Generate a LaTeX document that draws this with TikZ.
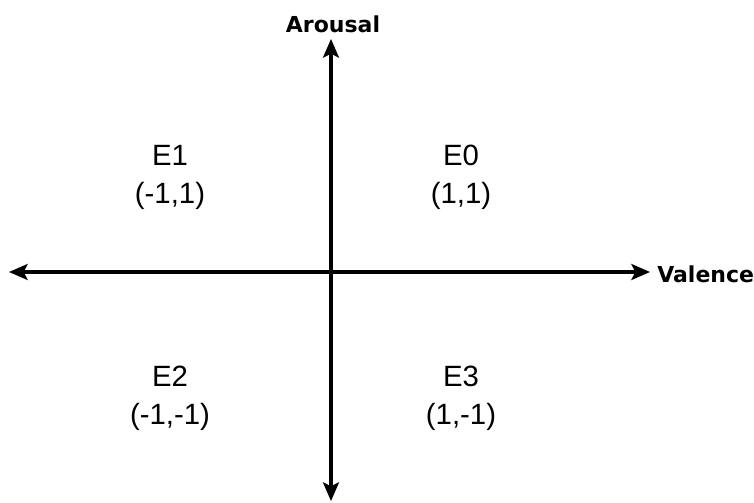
\documentclass[tikz,border=0pt]{standalone}
\usepackage{fontspec}
\setmainfont{Liberation Sans}
\newfontfamily\axisfont{DejaVu Sans}
\usetikzlibrary{arrows.meta}
\begin{document}
\begin{tikzpicture}[x=0.75pt,y=-0.75pt,
  tip/.tip={Stealth[length=14pt,width=12pt,inset=3pt]},
  axis/.style={line width=2.3pt,tip-tip},
  axislabel/.style={font=\axisfont\bfseries\fontsize{16.5}{19}\selectfont,inner sep=0pt},
  quad/.style={font=\fontsize{22}{26}\selectfont,inner sep=0pt,anchor=base}]
\useasboundingbox (0,0) rectangle (754,503);
\coordinate (L) at (9,272);
\coordinate (R) at (650,272);
\coordinate (T) at (331,39);
\coordinate (B) at (331,501);
\draw[axis] (L) -- (R);
\draw[axis] (B) -- (T);
\node[axislabel,anchor=base] (arousal) at (333,33) {Arousal};
\node[axislabel,anchor=base west] (valence) at (657,282) {Valence};
\node[quad] (e1) at (170,166) {E1};
\node[quad] (e1v) at (170,204) {(-1,1)};
\node[quad] (e0) at (461,166) {E0};
\node[quad] (e0v) at (461,204) {(1,1)};
\node[quad] (e2) at (170,386) {E2};
\node[quad] (e2v) at (170,424) {(-1,-1)};
\node[quad] (e3) at (461,386) {E3};
\node[quad] (e3v) at (461,424) {(1,-1)};
\end{tikzpicture}
\end{document}
